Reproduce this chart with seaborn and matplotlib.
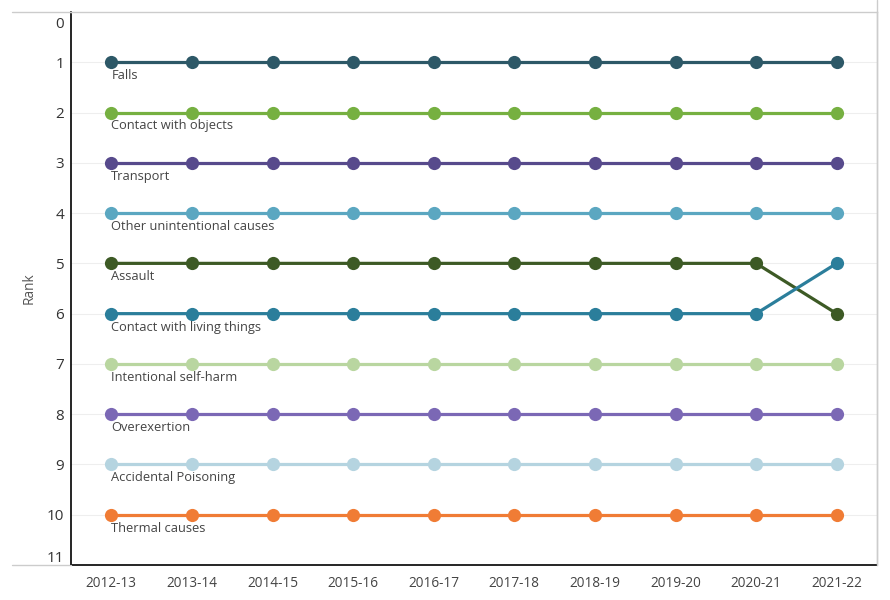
import seaborn as sns
import matplotlib.pyplot as plt
from matplotlib.lines import Line2D
from matplotlib.transforms import ScaledTranslation
import pandas as pd

years = ['2012-13', '2013-14', '2014-15', '2015-16', '2016-17',
         '2017-18', '2018-19', '2019-20', '2020-21', '2021-22']

causes = ['Falls', 'Contact with objects', 'Transport', 'Other unintentional causes',
          'Assault', 'Contact with living things', 'Intentional self-harm',
          'Overexertion', 'Accidental Poisoning', 'Thermal causes']

ranks = {
    'Falls': [1] * 10,
    'Contact with objects': [2] * 10,
    'Transport': [3] * 10,
    'Other unintentional causes': [4] * 10,
    'Assault': [5, 5, 5, 5, 5, 5, 5, 5, 5, 6],
    'Contact with living things': [6, 6, 6, 6, 6, 6, 6, 6, 6, 5],
    'Intentional self-harm': [7] * 10,
    'Overexertion': [8] * 10,
    'Accidental Poisoning': [9] * 10,
    'Thermal causes': [10] * 10,
}

colors = ['#2d5867', '#76b041', '#574a8c', '#5ba7c1', '#3d5a25',
          '#2b7e9b', '#b9d6a0', '#7b68b5', '#b5d4e0', '#f07c35']

rows = []
for c in causes:
    for i, y in enumerate(years):
        rows.append({'year': y, 'x': i, 'cause': c, 'rank': ranks[c][i]})
df = pd.DataFrame(rows)

sns.set_style("white")
plt.rcParams['font.family'] = ['Open Sans', 'DejaVu Sans']

fig = plt.figure(figsize=(8.9, 6), dpi=100)
ax = fig.add_axes([71 / 890, 35 / 600, 806 / 890, 553 / 600])

sns.lineplot(data=df, x='x', y='rank', hue='cause', hue_order=causes,
             palette=colors, marker='o', markersize=9.5, markeredgewidth=0,
             linewidth=2.3, legend=False, ax=ax, zorder=3)

for c, col in zip(causes, colors):
    ax.annotate(c, (0, ranks[c][0]), xytext=(0, -5), textcoords='offset points',
                ha='left', va='top', fontsize=9.3, color='#444444')

ax.set_xlim(-0.5, 9.5)
ax.set_ylim(11, 0)
ax.set_xticks(range(10))
ax.set_xticklabels(years)
ax.set_yticks(range(12))
ax.set_yticklabels([str(i) for i in range(12)])
ax.tick_params(axis='x', labelsize=9.8, colors='#444444', length=0, pad=8)
ax.tick_params(axis='y', labelsize=11, colors='#333333', length=0, pad=5)
ylabs = ax.get_yticklabels()
ylabs[0].set_transform(ylabs[0].get_transform() + ScaledTranslation(0, -0.11, fig.dpi_scale_trans))
ylabs[-1].set_transform(ylabs[-1].get_transform() + ScaledTranslation(0, 0.09, fig.dpi_scale_trans))
ax.set_xlabel('')
ax.set_ylabel('Rank', fontsize=9.8, color='#555555', labelpad=7)

for r in range(1, 11):
    ax.axhline(r, color='#eeeeee', linewidth=0.8, zorder=0)

ax.spines['left'].set_color('black')
ax.spines['left'].set_linewidth(1.2)
ax.spines['bottom'].set_color('black')
ax.spines['bottom'].set_linewidth(1.2)
ax.spines['top'].set_color('#cccccc')
ax.spines['top'].set_linewidth(1)
ax.spines['right'].set_color('#cccccc')
ax.spines['right'].set_linewidth(1)

# light grey header/footer rules running into the left margin
top_y = 1 - 12 / 600
bot_y = 35 / 600
fig.add_artist(Line2D([12 / 890, 71 / 890], [top_y, top_y], color='#cccccc', linewidth=1))
fig.add_artist(Line2D([12 / 890, 71 / 890], [bot_y, bot_y], color='#cccccc', linewidth=1))
fig.add_artist(Line2D([877 / 890, 877 / 890], [bot_y, 1], color='#cccccc', linewidth=1))

plt.savefig('out.png', dpi=100)
